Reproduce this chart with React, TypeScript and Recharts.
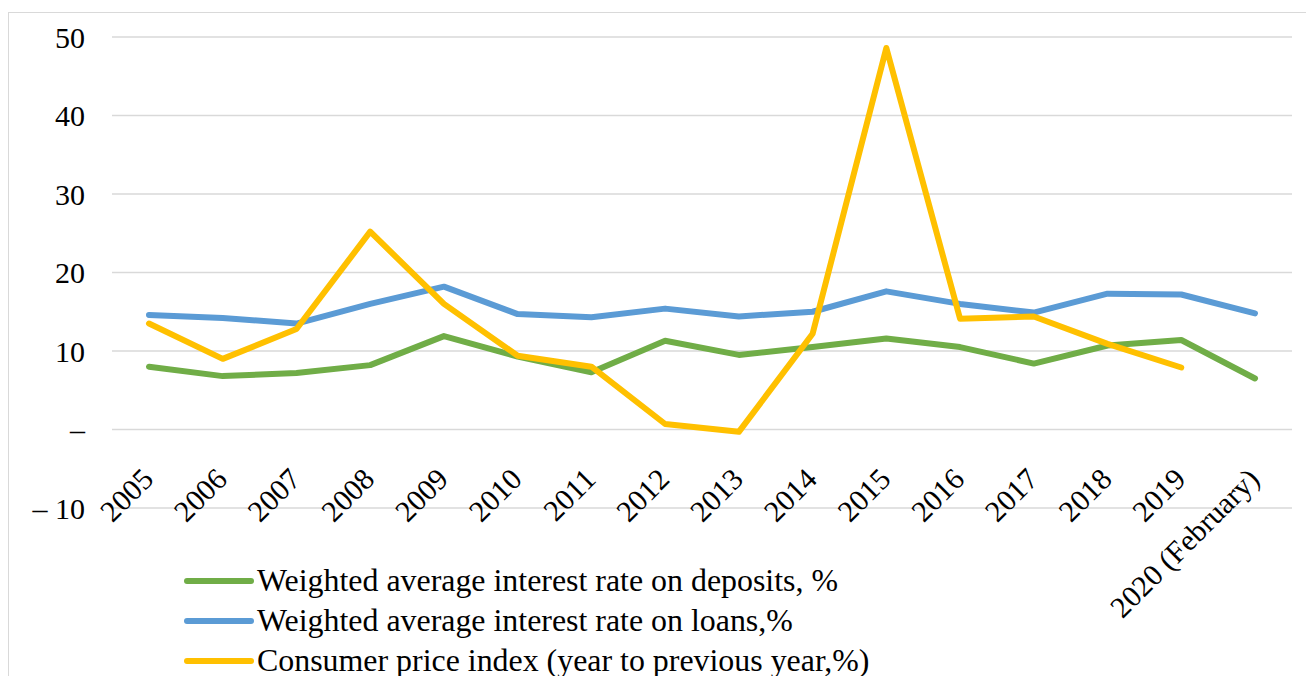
import React from 'react';
import { LineChart, Line, XAxis, YAxis, CartesianGrid, Legend } from 'recharts';

const years = [
  '2005', '2006', '2007', '2008', '2009', '2010', '2011', '2012',
  '2013', '2014', '2015', '2016', '2017', '2018', '2019', '2020 (February)',
];
const deposits = [8.0, 6.8, 7.2, 8.2, 11.9, 9.3, 7.3, 11.3, 9.5, 10.5, 11.6, 10.5, 8.4, 10.7, 11.4, 6.5];
const loans = [14.6, 14.2, 13.5, 16.0, 18.2, 14.7, 14.3, 15.4, 14.4, 15.0, 17.6, 16.0, 14.9, 17.3, 17.2, 14.8];
const cpi = [13.5, 9.0, 12.8, 25.2, 16.0, 9.4, 8.0, 0.7, -0.3, 12.2, 48.6, 14.1, 14.4, 10.9, 7.9, null];
const yTicks = [-10, 0, 10, 20, 30, 40, 50];

const seriesNames = [
  'Weighted average interest rate on deposits, %',
  'Weighted average interest rate on loans,%',
  'Consumer price index (year to previous year,%)',
];
const seriesColors = ['#70AD47', '#5B9BD5', '#FFC000'];

const data = years.map((year, i) => ({
  year,
  deposits: deposits[i],
  loans: loans[i],
  cpi: cpi[i],
}));

const FONT = '"Liberation Serif", "Times New Roman", serif';

const formatY = (v: number) => (v === 0 ? '–' : v < 0 ? `– ${Math.abs(v)}` : `${v}`);

// category labels sit just under the zero line, like Excel does it
const YearTick = (props: any) => {
  const { x, y, payload } = props;
  return (
    <g transform={`translate(${x + 6},${y - 27}) rotate(-45)`}>
      <text x={0} y={0} textAnchor="end" fill="#000" fontSize={30} fontFamily={FONT}>
        {payload.value}
      </text>
    </g>
  );
};

const LegendBox = () => (
  <div style={{ fontFamily: FONT, fontSize: 31.9, color: '#000' }}>
    {seriesNames.map((name, i) => (
      <div key={name} style={{ display: 'flex', alignItems: 'center', height: 40, whiteSpace: 'nowrap' }}>
        <svg width={72} height={10} style={{ marginRight: 2 }}>
          <line x1={4} y1={5} x2={68} y2={5} stroke={seriesColors[i]} strokeWidth={6} strokeLinecap="round" />
        </svg>
        <span>{name}</span>
      </div>
    ))}
  </div>
);

export default function App() {
  return (
    <div style={{ paddingTop: 4 }}>
      <div style={{ position: 'relative', width: 1298, height: 664 }}>
        <LineChart
          width={1298}
          height={664}
          data={data}
          margin={{ top: 25, right: 14, left: 0, bottom: 0 }}
        >
          <CartesianGrid vertical={false} stroke="#D9D9D9" strokeWidth={1.5} />
          <XAxis
            dataKey="year"
            interval={0}
            height={168}
            padding={{ left: 37, right: 37 }}
            axisLine={false}
            tickLine={false}
            tickSize={0}
            tickMargin={0}
            tick={<YearTick />}
          />
          <YAxis
            domain={[-10, 50]}
            ticks={yTicks}
            width={104}
            axisLine={false}
            tickLine={false}
            tickSize={0}
            tickMargin={27}
            tickFormatter={formatY}
            tick={{ fill: '#000', fontSize: 30, fontFamily: FONT }}
          />
          <Legend
            layout="vertical"
            align="center"
            verticalAlign="middle"
            content={<LegendBox />}
            wrapperStyle={{ left: 175, top: 549, width: 'auto' }}
          />
          <Line dataKey="deposits" name={seriesNames[0]} stroke={seriesColors[0]} strokeWidth={6}
            strokeLinecap="round" strokeLinejoin="round" dot={false} isAnimationActive={false} />
          <Line dataKey="loans" name={seriesNames[1]} stroke={seriesColors[1]} strokeWidth={6}
            strokeLinecap="round" strokeLinejoin="round" dot={false} isAnimationActive={false} />
          <Line dataKey="cpi" name={seriesNames[2]} stroke={seriesColors[2]} strokeWidth={6}
            strokeLinecap="round" strokeLinejoin="round" dot={false} isAnimationActive={false} />
        </LineChart>
        <div
          style={{
            position: 'absolute', left: 0, top: 0, right: 0, bottom: 0,
            borderLeft: '1px solid #D9D9D9', borderTop: '1px solid #D9D9D9', pointerEvents: 'none',
          }}
        />
      </div>
    </div>
  );
}
